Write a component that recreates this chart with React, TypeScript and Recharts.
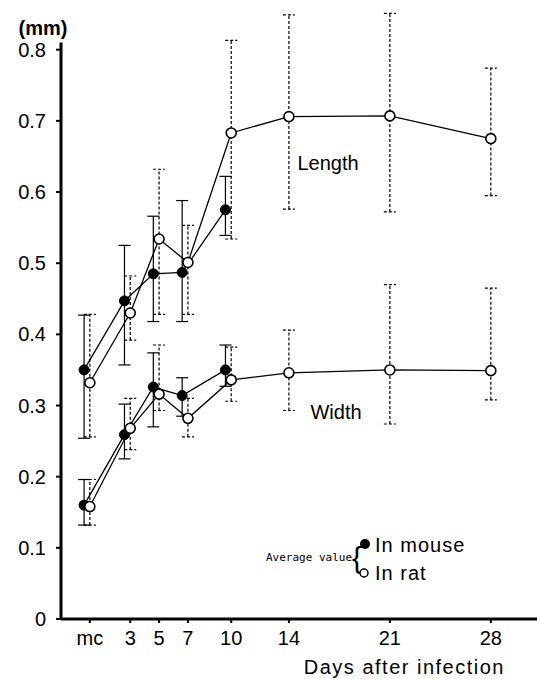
import React from "react";
import {
  ComposedChart,
  ErrorBar,
  Line,
  ReferenceLine,
  XAxis,
  YAxis,
} from "recharts";

// x positions of the sampling days ("mc" sits just right of the y axis)
const dayLabels = ["mc", "3", "5", "7", "10", "14", "21", "28"];
const dayPositions = [0.2, 3, 5, 7, 10, 14, 21, 28];
const yTicks = [0, 0.1, 0.2, 0.3, 0.4, 0.5, 0.6, 0.7, 0.8];

// average values (mm) with the ends of each error bar
const lengthMouse = [0.35, 0.447, 0.485, 0.487, 0.575];
const lengthMouseLow = [0.254, 0.357, 0.418, 0.418, 0.539];
const lengthMouseHigh = [0.427, 0.525, 0.566, 0.588, 0.622];

const lengthRat = [0.332, 0.43, 0.534, 0.501, 0.683, 0.706, 0.707, 0.675];
const lengthRatLow = [0.256, 0.392, 0.428, 0.428, 0.534, 0.576, 0.572, 0.595];
const lengthRatHigh = [0.428, 0.482, 0.632, 0.553, 0.813, 0.849, 0.851, 0.774];

const widthMouse = [0.16, 0.259, 0.326, 0.314, 0.35];
const widthMouseLow = [0.132, 0.225, 0.27, 0.285, 0.327];
const widthMouseHigh = [0.196, 0.302, 0.374, 0.339, 0.385];

const widthRat = [0.158, 0.268, 0.316, 0.282, 0.336, 0.346, 0.35, 0.349];
const widthRatLow = [0.132, 0.238, 0.293, 0.256, 0.306, 0.293, 0.274, 0.308];
const widthRatHigh = [0.196, 0.31, 0.385, 0.31, 0.382, 0.406, 0.47, 0.465];

// mouse points are drawn a little left of the day, rat points on it
const MOUSE_SHIFT = -0.4;
const RAT_SHIFT = 0;

const X_MIN = -1.8;
const FONT = "'Liberation Sans', Arial, sans-serif";

function rows(values: number[], low: number[], high: number[], shift: number) {
  return values.map((v, i) => ({
    x: dayPositions[i] + shift,
    y: v,
    err: [v - low[i], high[i] - v],
  }));
}

const filledDot = { r: 5, fill: "#000", stroke: "#000", strokeWidth: 1 };
const openDot = { r: 5, fill: "#fff", stroke: "#000", strokeWidth: 1.6 };

function Note({
  x,
  y,
  anchor = "middle",
  style,
  children,
}: {
  x: number;
  y: number;
  anchor?: "start" | "middle" | "end";
  style?: React.CSSProperties;
  children: React.ReactNode;
}) {
  const tx = anchor === "start" ? "0" : anchor === "end" ? "-100%" : "-50%";
  return (
    <div
      style={{
        position: "absolute",
        left: x,
        top: y,
        transform: `translate(${tx}, -50%)`,
        whiteSpace: "nowrap",
        fontFamily: FONT,
        fontSize: 20,
        lineHeight: 1,
        color: "#000",
        ...style,
      }}
    >
      {children}
    </div>
  );
}

export default function App() {
  const series = [
    { key: "lm", data: rows(lengthMouse, lengthMouseLow, lengthMouseHigh, MOUSE_SHIFT), open: false },
    { key: "wm", data: rows(widthMouse, widthMouseLow, widthMouseHigh, MOUSE_SHIFT), open: false },
    { key: "lr", data: rows(lengthRat, lengthRatLow, lengthRatHigh, RAT_SHIFT), open: true },
    { key: "wr", data: rows(widthRat, widthRatLow, widthRatHigh, RAT_SHIFT), open: true },
  ];

  return (
    <div
      style={{
        position: "absolute",
        left: 0,
        top: 0,
        width: 537,
        height: 679,
        background: "#fff",
      }}
    >
      <ComposedChart
        width={537}
        height={679}
        margin={{ top: 7, right: 0, bottom: 0, left: 0 }}
      >
        <XAxis
          type="number"
          dataKey="x"
          domain={[X_MIN, 31.2]}
          ticks={dayPositions}
          interval={0}
          tickFormatter={(v: number) => dayLabels[dayPositions.indexOf(v)] ?? ""}
          axisLine={{ stroke: "#000", strokeWidth: 3 }}
          tickLine={{ stroke: "#000", strokeWidth: 2 }}
          tickSize={4}
          tickMargin={8}
          height={60}
          tick={{ fontSize: 20, fill: "#000", fontFamily: FONT }}
        />
        <YAxis
          type="number"
          domain={[0, 0.86]}
          ticks={yTicks}
          interval={0}
          tickFormatter={(v: number) => (v === 0 ? "0" : v.toFixed(1))}
          axisLine={false}
          tickLine={{ stroke: "#000", strokeWidth: 2 }}
          tickSize={5}
          tickMargin={10}
          width={61}
          tick={{ fontSize: 20, fill: "#000", fontFamily: FONT }}
        />
        <ReferenceLine
          segment={[
            { x: X_MIN, y: 0 },
            { x: X_MIN, y: 0.81 },
          ]}
          stroke="#000"
          strokeWidth={3}
          ifOverflow="visible"
        />
        {series.map((s) => (
          <Line
            key={s.key}
            data={s.data}
            dataKey="y"
            type="linear"
            stroke="#000"
            strokeWidth={1.3}
            dot={s.open ? openDot : filledDot}
            activeDot={false}
            isAnimationActive={false}
          >
            <ErrorBar
              dataKey="err"
              direction="y"
              width={6}
              stroke="#000"
              strokeWidth={1.2}
              strokeDasharray={s.open ? "3 2" : undefined}
              isAnimationActive={false}
            />
          </Line>
        ))}
      </ComposedChart>

      <Note x={43} y={28} style={{ fontWeight: "bold" }}>
        (mm)
      </Note>
      <Note x={328} y={163}>Length</Note>
      <Note x={336} y={412}>Width</Note>

      <Note
        x={352}
        y={557}
        anchor="end"
        style={{ fontFamily: "'DejaVu Sans Mono', monospace", fontSize: 11 }}
      >
        Average value
      </Note>
      <Note x={357} y={558} style={{ fontSize: 30, fontWeight: 300 }}>
        {"{"}
      </Note>
      <svg
        width={20}
        height={50}
        style={{ position: "absolute", left: 355, top: 534 }}
      >
        <circle cx={10} cy={10} r={5} fill="#000" />
        <circle cx={9} cy={39} r={4} fill="#fff" stroke="#000" strokeWidth={1.5} />
      </svg>
      <Note x={375} y={545} anchor="start" style={{ letterSpacing: 1 }}>
        In mouse
      </Note>
      <Note x={375} y={573} anchor="start" style={{ letterSpacing: 1 }}>
        In rat
      </Note>

      <Note x={505} y={667} anchor="end" style={{ letterSpacing: 1.5 }}>
        Days after infection
      </Note>
    </div>
  );
}
